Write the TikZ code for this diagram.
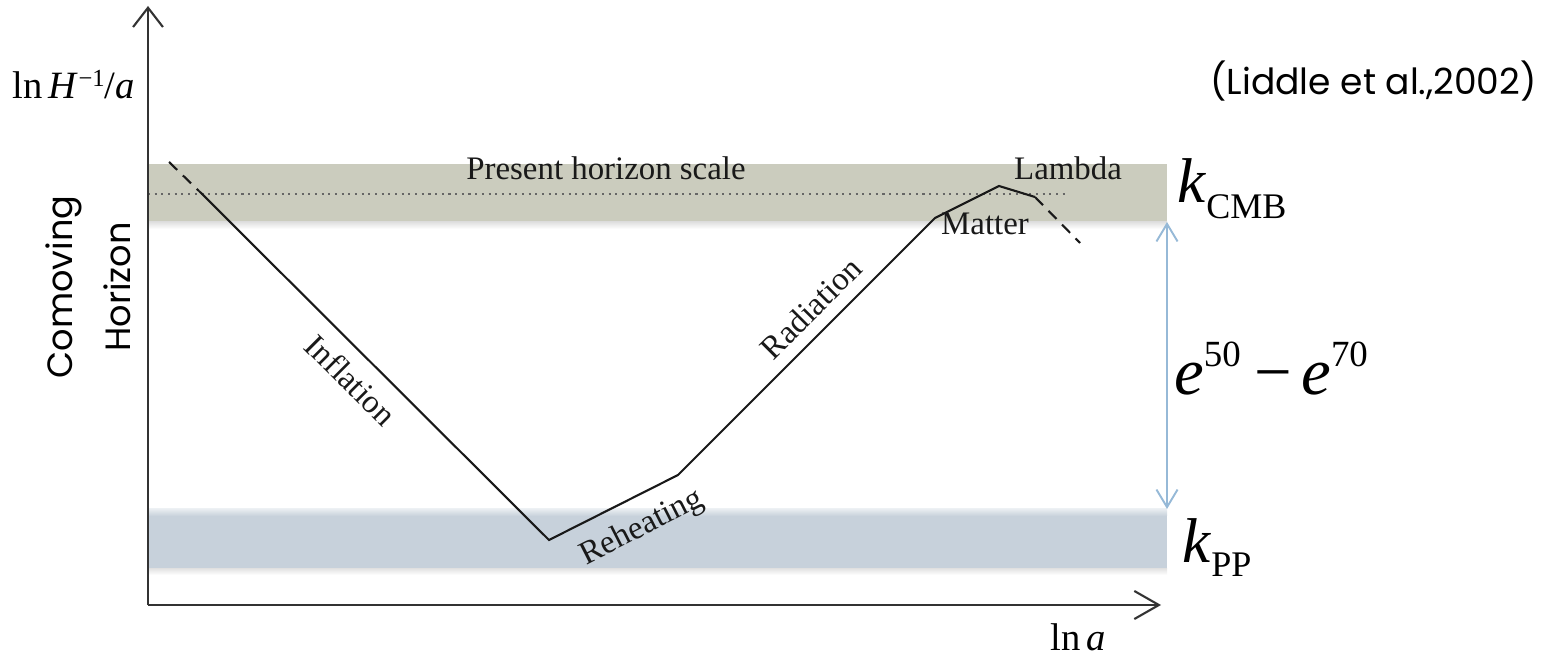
\documentclass[tikz,border=0pt]{standalone}
\usepackage{fontspec}
\setmainfont{Liberation Serif}
\newfontfamily\gothic{Poppins}
\usetikzlibrary{arrows.meta}
\definecolor{cmbband}{RGB}{203,204,190}
\definecolor{ppband}{RGB}{199,209,219}
\definecolor{gapblue}{RGB}{150,185,215}

\begin{document}
\begin{tikzpicture}[x=0.02cm, y=-0.02cm,
    axis/.style={line width=1.2pt, black!80},
    curve/.style={line width=1.2pt, black!90},
    phase/.style={font=\fontsize{18.7}{20}\selectfont, text=black!90, inner sep=0pt},
    big/.style={inner sep=0pt, anchor=base west}]
    \useasboundingbox (0,0) rectangle (1549,658);

    % Define the coordinates for the axes
    \coordinate (O) at (148,605);
    \coordinate (ytip) at (148,6);
    \coordinate (xtip) at (1161,605);

    % Draw the two bands
    \fill[cmbband] (148,164) rectangle (1167,222);
    \shade[top color=black!12, bottom color=white] (148,222) rectangle (1167,229);
    \fill[ppband] (148,509) rectangle (1167,568);
    \shade[top color=white!60!ppband, bottom color=ppband] (148,509) rectangle (1167,516);
    \shade[top color=black!12, bottom color=white] (148,568) rectangle (1167,575);
    \coordinate (cmb) at (1167,222);
    \coordinate (pp) at (1167,509);

    % Draw the present horizon scale
    \coordinate (h0) at (148,194);
    \coordinate (h1) at (1068,194);
    \draw[line width=0.9pt, black!60, dash pattern=on 1.2pt off 2.6pt] (h0) -- (h1);

    % Draw the axes
    \draw[axis, -{Straight Barb[length=11pt, width=17pt]}] (O) -- (ytip);
    \draw[axis, -{Straight Barb[length=14pt, width=16pt]}] (O) -- (xtip);

    % Define the coordinates for the horizon curve
    \coordinate (c0) at (169,162);
    \coordinate (c1) at (199,191);
    \coordinate (c2) at (549,540);
    \coordinate (c3) at (678,475);
    \coordinate (c4) at (935,218);
    \coordinate (c5) at (999,186);
    \coordinate (c6) at (1035,197);
    \coordinate (c7) at (1080,243);

    % Draw the curve
    \draw[curve, dash pattern=on 6.5pt off 4.5pt] (c0) -- (c1);
    \draw[curve] (c1) -- (c2) -- (c3) -- (c4) -- (c5) -- (c6);
    \draw[curve, dash pattern=on 6.5pt off 4.5pt] (c6) -- (c7);

    % Draw the gap between the scales
    \draw[line width=1.1pt, gapblue, {Straight Barb[length=10pt, width=12pt]}-{Straight Barb[length=10pt, width=12pt]}] (cmb) -- (pp);

    % Add labels for the phases
    \node[phase, anchor=base] (present) at (606,180) {Present horizon scale};
    \node[phase, anchor=base] (lambda) at (1068,180) {Lambda};
    \node[phase, anchor=base] (matter) at (985,235) {Matter};
    \node[phase, rotate=-45] (inflation) at (351,380) {Inflation};
    \node[phase, rotate=45] (radiation) at (811,308) {Radiation};
    \node[phase, rotate=27] (reheating) at (642,528) {Reheating};

    % Add labels for the scales
    \node[big] (kcmb) at (1177,203) {\fontsize{36}{36}\selectfont\textit{k}\raisebox{-9pt}{\fontsize{20.5}{20}\selectfont CMB}};
    \node[big] (kpp) at (1182,562) {\fontsize{36}{36}\selectfont\textit{k}\raisebox{-8.5pt}{\fontsize{20.5}{20}\selectfont PP}};
    \node[big] (efold) at (1174,395) {\fontsize{38}{38}\selectfont\textit{e}\raisebox{16pt}{\fontsize{21}{21}\selectfont 50}\hspace{8pt}−\hspace{5pt}\textit{e}\raisebox{16pt}{\fontsize{21}{21}\selectfont 70}};

    % Add labels for the axes
    \node[big] (ylabel) at (12,99) {\fontsize{22}{22}\selectfont ln\,\textit{H}\raisebox{7pt}{\fontsize{14}{14}\selectfont −1}/\textit{a}};
    \node[big] (xlabel) at (1050,650) {\fontsize{22}{22}\selectfont ln\,\textit{a}};
    \node[rotate=90, align=center, inner sep=0pt, font=\gothic\fontsize{20}{33}\selectfont] (comoving) at (88,287) {Comoving\\Horizon};
    \node[anchor=base east, inner sep=0pt, font=\gothic\fontsize{20.5}{20}\selectfont] (cite) at (1537,95) {(Liddle et al.,2002)};

\end{tikzpicture}
\end{document}
